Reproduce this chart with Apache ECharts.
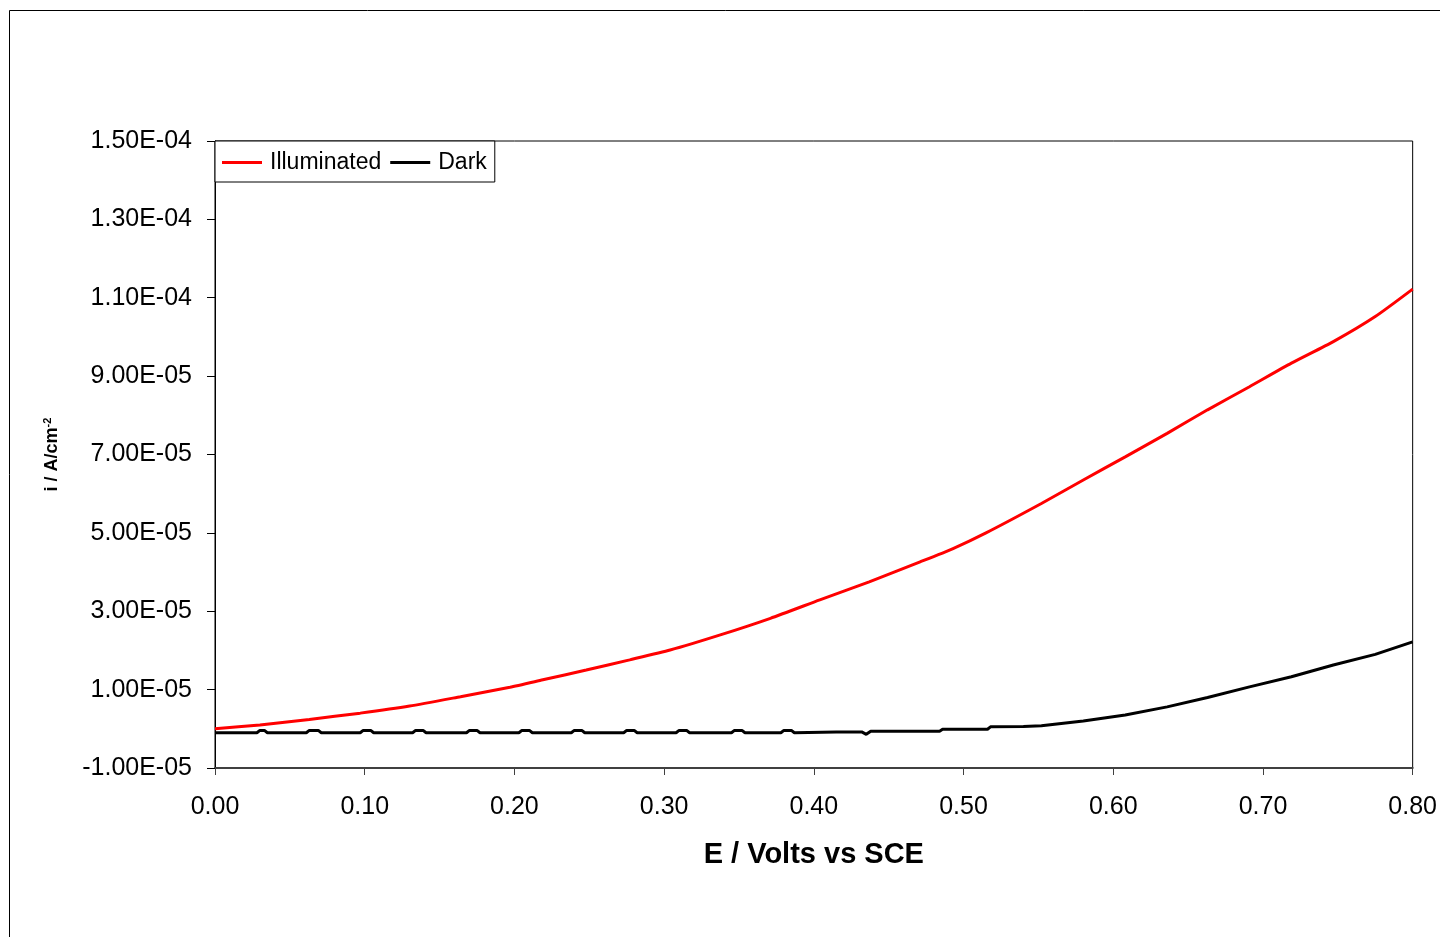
<!DOCTYPE html>
<html>
<head>
<meta charset="utf-8">
<script src="https://cdn.jsdelivr.net/npm/echarts@6/dist/echarts.min.js"></script>
<style>
html,body{margin:0;padding:0;background:#fff;}
#chart{width:1440px;height:937px;}
</style>
</head>
<body>
<div id="chart"></div>
<script>
// ---- Data (E in V vs SCE, i in A/cm^2) ----
const illumE = [0.000,0.030,0.063,0.097,0.130,0.164,0.197,0.219,0.248,0.277,0.304,0.337,0.371,0.404,0.437,0.471,0.493,0.515,0.552,0.580,0.608,0.636,0.663,0.691,0.719,0.747,0.775,0.800];
const illumI = [0.00e-5,0.10e-5,0.24e-5,0.40e-5,0.58e-5,0.82e-5,1.06e-5,1.25e-5,1.50e-5,1.76e-5,2.01e-5,2.39e-5,2.82e-5,3.29e-5,3.75e-5,4.26e-5,4.60e-5,5.00e-5,5.75e-5,6.35e-5,6.94e-5,7.54e-5,8.14e-5,8.73e-5,9.33e-5,9.88e-5,10.52e-5,11.22e-5];

const darkE = [0.000,0.028,0.030,0.033,0.035,0.061,0.063,0.069,0.071,0.097,0.099,0.104,0.106,0.132,0.134,0.139,0.141,0.168,0.170,0.175,0.177,0.203,0.205,0.210,0.212,0.238,0.240,0.245,0.247,0.273,0.275,0.280,0.282,0.308,0.310,0.315,0.317,0.345,0.347,0.352,0.354,0.378,0.380,0.385,0.387,0.415,0.432,0.435,0.438,0.484,0.486,0.516,0.518,0.540,0.552,0.580,0.608,0.636,0.663,0.691,0.719,0.747,0.775,0.800];
const darkI = [-0.10e-5,-0.10e-5,-0.04e-5,-0.04e-5,-0.10e-5,-0.10e-5,-0.04e-5,-0.04e-5,-0.10e-5,-0.10e-5,-0.04e-5,-0.04e-5,-0.10e-5,-0.10e-5,-0.04e-5,-0.04e-5,-0.10e-5,-0.10e-5,-0.04e-5,-0.04e-5,-0.10e-5,-0.10e-5,-0.04e-5,-0.04e-5,-0.10e-5,-0.10e-5,-0.04e-5,-0.04e-5,-0.10e-5,-0.10e-5,-0.04e-5,-0.04e-5,-0.10e-5,-0.10e-5,-0.04e-5,-0.04e-5,-0.10e-5,-0.10e-5,-0.04e-5,-0.04e-5,-0.10e-5,-0.10e-5,-0.04e-5,-0.04e-5,-0.10e-5,-0.08e-5,-0.08e-5,-0.14e-5,-0.06e-5,-0.06e-5,-0.01e-5,-0.01e-5,0.05e-5,0.06e-5,0.08e-5,0.20e-5,0.35e-5,0.56e-5,0.80e-5,1.07e-5,1.33e-5,1.63e-5,1.90e-5,2.22e-5];

const seriesNames = ['Illuminated','Dark'];
const xTitle = 'E / Volts vs SCE';

function pairs(xs, ys){ return xs.map((x,i)=>[x, ys[i]]); }
function sciFmt(v){
  const s = Number(v).toExponential(2);
  const parts = s.split('e');
  const n = parseInt(parts[1],10);
  return parts[0] + 'E' + (n<0?'-':'+') + String(Math.abs(n)).padStart(2,'0');
}

const chart = echarts.init(document.getElementById('chart'), null, {renderer:'canvas'});
const FONT = '"Liberation Sans", Arial, sans-serif';
chart.setOption({
  backgroundColor:'#ffffff',
  animation:false,
  textStyle:{fontFamily:FONT},
  graphic:[{
    type:'rect', silent:true, z:-1,
    shape:{x:9.5,y:10.5,width:1600,height:1000},
    style:{fill:'none',stroke:'#000',lineWidth:1}
  }],
  grid:{left:215,right:27,top:141,bottom:169,show:true,borderColor:'#000',borderWidth:1,backgroundColor:'transparent'},
  legend:{
    left:215, top:141,
    data:seriesNames,
    icon:'rect', itemWidth:40, itemHeight:3, itemGap:9,
    padding:[10,8,8,7],
    backgroundColor:'#fff', borderColor:'#000', borderWidth:1,
    textStyle:{fontFamily:FONT,fontSize:23,color:'#000',padding:[0,0,0,3]}
  },
  xAxis:{
    type:'value', min:0, max:0.8, interval:0.1,
    name:xTitle, nameLocation:'middle', nameGap:72,
    nameTextStyle:{fontFamily:FONT,fontSize:29,fontWeight:'bold',color:'#000'},
    axisLine:{show:true,onZero:false,lineStyle:{color:'#404040',width:2}},
    axisTick:{show:true,length:7,lineStyle:{color:'#404040',width:1}},
    axisLabel:{margin:27,fontSize:25,color:'#000',fontFamily:FONT,formatter:v=>v.toFixed(2)},
    splitLine:{show:false}
  },
  yAxis:{
    type:'value', min:-1e-5, max:1.5e-4, interval:2e-5,
    name:'i / A/cm{sup|-2}', nameLocation:'middle', nameGap:152, nameRotate:90,
    nameTextStyle:{fontFamily:FONT,fontSize:18,fontWeight:'bold',color:'#000',
      rich:{sup:{fontSize:11,fontWeight:'bold',verticalAlign:'top',padding:[0,0,10,0],fontFamily:FONT}}},
    axisLine:{show:true,onZero:false,lineStyle:{color:'#000',width:1}},
    axisTick:{show:true,length:8,lineStyle:{color:'#000',width:1}},
    axisLabel:{margin:23,fontSize:25,color:'#000',fontFamily:FONT,formatter:sciFmt,padding:[4,0,0,0]},
    splitLine:{show:false}
  },
  series:[
    {name:seriesNames[0],type:'line',data:pairs(illumE,illumI),showSymbol:false,symbol:'none',
     smooth:0.2,lineStyle:{color:'#ff0000',width:3},itemStyle:{color:'#ff0000'},z:3},
    {name:seriesNames[1],type:'line',data:pairs(darkE,darkI),showSymbol:false,symbol:'none',
     lineStyle:{color:'#000000',width:3},itemStyle:{color:'#000000'},z:2}
  ]
});
</script>
</body>
</html>
